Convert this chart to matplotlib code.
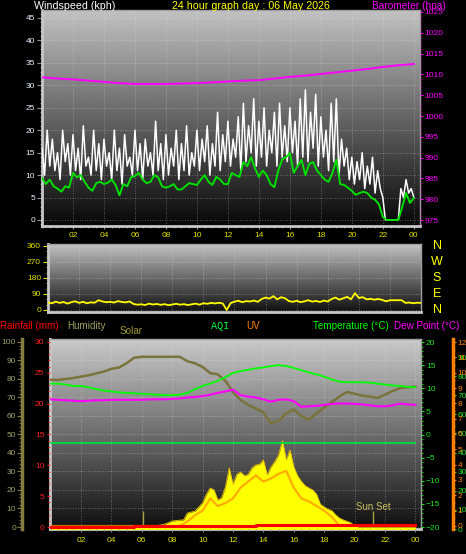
#!/usr/bin/env python3

# 24 hour weather station graph (wind, direction, temp/humidity/solar)

import numpy as np
import matplotlib
matplotlib.use('Agg')
import matplotlib.pyplot as plt
from matplotlib.ticker import MultipleLocator
from matplotlib.transforms import blended_transform_factory

plt.rcParams['font.family'] = ['Liberation Sans', 'DejaVu Sans']

hour_ticks = [2, 4, 6, 8, 10, 12, 14, 16, 18, 20, 22, 24]
hour_labels = ['02', '04', '06', '08', '10', '12', '14', '16', '18', '20', '22', '00']

# wind gust (kph), 10 minute steps
gust_hours = np.arange(145) / 6
gust = [
    16, 10, 20, 12, 18, 11,   # 00
    15, 9, 20, 13, 17, 10,    # 01
    19, 11, 16, 9, 21, 12,    # 02
    14, 10, 20, 11, 17, 9,    # 03
    18, 12, 15, 9, 20, 11,    # 04
    16, 8, 19, 12, 14, 10,    # 05
    20, 11, 17, 9, 18, 12,    # 06
    15, 10, 22, 11, 17, 9,    # 07
    19, 10, 16, 12, 20, 9,    # 08
    17, 11, 21, 10, 15, 12,   # 09
    20, 11, 18, 13, 21, 10,   # 10
    17, 12, 24, 11, 19, 13,   # 11
    22, 12, 18, 14, 23, 11,   # 12
    26, 13, 21, 15, 27, 12,   # 13
    22, 14, 25, 12, 20, 15,   # 14
    24, 12, 26, 14, 21, 13,   # 15
    25, 15, 22, 12, 27, 14,   # 16
    29, 13, 24, 16, 28, 12,   # 17
    23, 14, 20, 11, 26, 13,   # 18
    27, 10, 18, 12, 16, 9,    # 19
    14, 8, 13, 9, 15, 7,      # 20
    12, 8, 14, 6, 11, 7,      # 21
    5, 0, 0, 0, 0, 0,         # 22
    0, 7, 5, 9, 6, 7,         # 23
    5,
]

# average wind (kph) and direction (deg), 15 minute steps
quarter_hours = np.arange(97) / 4
wind_avg = [
    9.4, 8.0, 9.0, 7.5,
    7.0, 6.3, 7.5, 7.2,
    10.5, 9.5, 10.0, 8.5,
    7.2, 6.5, 8.2, 8.5,
    8.0, 8.3, 9.0, 7.8,
    5.5, 8.0, 7.5, 9.5,
    9.8, 10.5, 9.0, 8.2,
    8.5, 10.0, 9.5, 7.5,
    7.2, 7.5, 8.0, 6.8,
    6.8, 7.5, 8.2, 8.0,
    7.8, 9.0, 10.0, 8.5,
    7.8, 9.6, 9.0, 8.0,
    8.0, 10.5, 10.0, 9.6,
    12.9, 12.0, 14.0, 11.5,
    9.6, 11.0, 10.0, 8.0,
    7.3, 11.0, 13.5, 14.0,
    14.9, 10.5, 12.0, 13.4,
    10.0, 12.5, 12.9, 11.0,
    10.0, 9.0, 8.5, 10.5,
    13.4, 8.0, 7.8, 7.2,
    6.5, 5.6, 6.0, 6.3,
    6.0, 5.0, 4.5, 3.5,
    0.7, 0.0, 0.0, 0.0,
    0.0, 2.9, 6.0, 3.8,
    4.9,
]
wind_dir = [
    42, 38, 47, 40,
    45, 36, 44, 49,
    40, 46, 38, 43,
    41, 55, 48, 44,
    46, 42, 50, 45,
    43, 48, 34, 30,
    32, 28, 36, 31,
    34, 29, 33, 27,
    31, 35, 30, 33,
    28, 32, 36, 30,
    38, 35, 40, 37,
    41, 36, 0, 39,
    47, 52, 44, 50,
    48, 53, 46, 62,
    70, 64, 78, 60,
    72, 66, 50, 46,
    52, 44, 49, 55,
    47, 51, 45, 53,
    48, 62, 70, 58,
    66, 74, 60, 95,
    68, 72, 60, 63,
    58, 62, 57, 49,
    55, 55, 55, 55,
    40, 42, 38, 41,
    40,
]

# solar radiation (W/m2), 15 minute steps
solar = [
    0, 0, 0, 0,  0, 0, 0, 0,  0, 0, 0, 0,  0, 0, 0, 0,
    0, 0, 0, 0,  0, 0, 0, 0,  0, 0, 0, 5,
    10, 14, 20, 30,
    42, 45, 48, 50,
    98, 105, 112, 140,
    169, 230, 274, 260,
    190, 204, 281, 415,
    300, 370, 387, 360,
    370, 415, 436, 440,
    471, 366, 422, 460,
    506, 607, 471, 541,
    422, 360, 320, 290,
    274, 260, 230, 160,
    140, 125, 115, 85,
    63, 50, 40, 30,
    10, 0, 0, 0,
    0, 0, 0, 0,  0, 0, 0, 0,  0, 0, 0, 0,
    0,
]

# barometer (hpa) and AQI, hourly
hours = np.arange(25)
baro = [1009.3, 1009.0, 1008.8, 1008.5, 1008.2, 1007.9, 1007.7, 1007.7, 1007.7,
        1007.8, 1007.9, 1008.1, 1008.3, 1008.5, 1008.6, 1009.0, 1009.4, 1009.7,
        1010.1, 1010.5, 1010.9, 1011.3, 1011.8, 1012.2, 1012.5]
aqi = [45, 45, 45, 45, 45, 45, 45, 45, 45, 45, 45, 45, 45,
       45, 45, 45, 45, 45, 45, 45, 45, 45, 45, 45, 45]

# half hourly
half_hours = np.arange(49) / 2
humidity = [79.5, 79.5, 80.0, 80.5, 81.3, 82.0, 83.0, 84.0, 85.5, 86.2,
            88.5, 91.5, 92.0, 92.0, 92.0, 92.0, 92.0, 92.0, 89.6, 88.5,
            86.5, 83.2, 82.5, 79.0, 73.0, 68.6, 66.0, 64.0, 62.0, 56.0,
            57.5, 61.5, 63.5, 60.0, 58.0, 61.5, 64.5, 67.5, 70.5, 73.0,
            72.0, 71.0, 70.5, 69.7, 71.5, 73.5, 75.0, 75.5, 75.8]
temperature = [11.0, 11.0, 10.8, 10.5, 10.5, 10.2, 9.8, 9.5, 9.3, 9.1,
               9.0, 8.9, 8.8, 8.7, 8.6, 8.5, 8.5, 8.6, 9.0, 9.8,
               10.5, 11.0, 11.6, 12.4, 13.3, 13.7, 14.0, 14.3, 14.5, 14.8,
               15.0, 14.8, 14.4, 13.9, 13.4, 13.0, 12.5, 11.9, 11.4, 11.3,
               11.3, 11.3, 11.2, 11.0, 10.8, 10.6, 10.5, 10.3, 10.2]
dew_point = [7.6, 7.5, 7.4, 7.3, 7.2, 7.3, 7.4, 7.4, 7.5, 7.5,
             7.5, 7.5, 7.5, 7.6, 7.6, 7.6, 7.7, 7.8, 8.0, 8.1,
             8.3, 8.6, 9.0, 9.3, 9.7, 8.5, 8.2, 8.0, 7.6, 7.1,
             7.5, 7.6, 7.2, 6.0, 6.1, 6.2, 6.4, 6.6, 6.7, 6.7,
             6.6, 6.5, 6.3, 6.1, 6.1, 6.3, 6.7, 6.5, 6.4]
uv = [0, 0, 0, 0, 0, 0, 0, 0, 0, 0, 0, 0, 0, 0, 0, 0, 0, 0,
      0.3, 0.7, 1.0, 1.8, 1.3, 1.5, 1.8, 2.5, 2.9, 3.3,
      2.9, 3.1, 3.4, 3.6, 2.5, 1.8, 1.6, 1.3, 1.0, 0.6,
      0, 0, 0, 0, 0, 0, 0, 0, 0, 0, 0]
rain = [0, 0, 0, 0, 0, 0, 0, 0, 0, 0, 0,
        0.2, 0.2, 0.2, 0.2, 0.2, 0.2, 0.2, 0.2, 0.2, 0.2, 0.2, 0.2, 0.2, 0.2, 0.2, 0.2,
        0.4, 0.4, 0.4, 0.4, 0.4, 0.4, 0.4, 0.4, 0.4, 0.4, 0.4, 0.4, 0.4, 0.4, 0.4,
        0.4, 0.4, 0.4, 0.4, 0.4, 0.4, 0.4]

sun_rise = 6.1
sun_set = 21.2

W, H = 466, 554
YELLOW = '#e0e000'


def rect(x0, y0, x1, y1):
    # pixel box (from top left) -> figure fraction
    return [x0 / W, 1 - y1 / H, (x1 - x0) / W, (y1 - y0) / H]


def shade(ax, top, bottom):
    g = np.linspace(top, bottom, 256).reshape(-1, 1)
    ax.imshow(g, cmap='gray', vmin=0, vmax=1, extent=[0, 1, 0, 1],
              transform=ax.transAxes, aspect='auto', zorder=0)


def frame(ax):
    for s in ['left', 'bottom']:
        ax.spines[s].set_color('#c8c8c8')
        ax.spines[s].set_linewidth(2)
    for s in ['top', 'right']:
        ax.spines[s].set_color('#a0a0a0')
        ax.spines[s].set_linewidth(1)


def grid(ax):
    ax.grid(True, color='#e8e8e8', ls=(0, (1, 2)), lw=0.6, alpha=0.45)


def layer(box, z):
    ax = fig.add_axes(box, zorder=z)
    ax.patch.set_visible(False)
    for s in ax.spines.values():
        s.set_visible(False)
    ax.tick_params(which='both', left=False, bottom=False,
                   labelleft=False, labelbottom=False)
    ax.set_xlim(-0.04, 24.37)
    return ax


fig = plt.figure(figsize=(W / 100, H / 100), dpi=100, facecolor='black')

# ---------------- wind speed / barometer ----------------
ax_w = fig.add_axes(rect(42, 10, 420, 226))
shade(ax_w, 0.76, 0.03)
ax_w.plot(gust_hours, gust, color='white', lw=1.1, zorder=3)
ax_w.plot(quarter_hours, wind_avg, color='#00e000', lw=1.4, zorder=4)
ax_w.set_xlim(0, 24.4)
ax_w.set_ylim(-1.34, 46.78)
ax_w.yaxis.set_major_locator(MultipleLocator(5))
ax_w.yaxis.set_minor_locator(MultipleLocator(1))
ax_w.set_xticks(hour_ticks, hour_labels)
ax_w.xaxis.set_minor_locator(MultipleLocator(0.5))
ax_w.tick_params(axis='y', which='both', color='#909090', labelcolor='#e8f0ff',
                 labelsize=6, length=3.5, pad=1.5)
ax_w.tick_params(axis='y', which='minor', length=1.5)
ax_w.tick_params(axis='x', which='both', color='#909090', labelcolor=YELLOW,
                 labelsize=6, length=2, pad=2.5)
ax_w.tick_params(axis='x', which='minor', length=1.2)
grid(ax_w)
frame(ax_w)

ax_b = ax_w.twinx()
ax_b.plot(hours, baro, color='#ff00ff', lw=1.4)
ax_b.set_ylim(973.56, 1025.48)
ax_b.yaxis.set_major_locator(MultipleLocator(5))
ax_b.yaxis.set_minor_locator(MultipleLocator(1))
ax_b.tick_params(axis='y', which='both', color='#ff00ff', labelcolor='#ff00ff',
                 labelsize=6, length=2, pad=1)
ax_b.tick_params(axis='y', which='minor', length=1)
for s in ax_b.spines.values():
    s.set_visible(False)

# ---------------- wind direction ----------------
ax_d = fig.add_axes(rect(48, 244, 421, 312))
shade(ax_d, 0.76, 0.06)
ax_d.plot(quarter_hours, wind_dir, color='#ffff00', lw=1.3, zorder=3)
ax_d.set_xlim(0, 24)
ax_d.set_ylim(-11.25, 371.25)
ax_d.set_yticks([0, 90, 180, 270, 360])
ax_d.yaxis.set_minor_locator(MultipleLocator(30))
ax_d.set_xticks(hour_ticks)
ax_d.tick_params(axis='x', length=0, labelbottom=False)
ax_d.tick_params(axis='y', which='both', color=YELLOW, labelcolor=YELLOW,
                 labelsize=6, length=3.5, pad=1.5)
ax_d.tick_params(axis='y', which='minor', length=1.5)
grid(ax_d)
frame(ax_d)
compass = blended_transform_factory(ax_d.transAxes, ax_d.transData)
for deg, letter in zip([360, 270, 180, 90, 0], ['N', 'W', 'S', 'E', 'N']):
    ax_d.text(1.043, deg, letter, transform=compass, color='#ffff00',
              fontsize=9, ha='center', va='center')

# ---------------- temperature / humidity / solar ----------------
box = rect(50, 339, 421, 529)

ax_bg = layer(box, 0)
shade(ax_bg, 0.79, 0.06)
ax_bg.set_ylim(-1.081, 101.62)
ax_bg.set_xticks(hour_ticks)
ax_bg.yaxis.set_major_locator(MultipleLocator(10))
grid(ax_bg)
for s in ax_bg.spines.values():
    s.set_visible(True)
frame(ax_bg)

ax_s = layer(box, 1)
ax_s.fill_between(quarter_hours, solar, -20, color='#ffff00', lw=0)
ax_s.plot(quarter_hours, solar, color='#f0c000', lw=0.6)
ax_s.set_ylim(-14.06, 1321.6)

ax_h = layer(box, 2)
ax_h.plot(half_hours, humidity, color='#7a743c', lw=1.8)
ax_h.vlines([sun_rise, sun_set], 0, 8.6, color='#a8a040', lw=1)
ax_h.text(sun_set, 10.8, 'Sun Set', color='#c8c060', fontsize=7,
          ha='center', va='center')
ax_h.set_ylim(-1.081, 101.62)
ax_h.spines['left'].set_visible(True)
ax_h.spines['left'].set_position(('outward', 20))
ax_h.spines['left'].set_color('#847c40')
ax_h.spines['left'].set_linewidth(2.5)
ax_h.yaxis.set_major_locator(MultipleLocator(10))
ax_h.yaxis.set_minor_locator(MultipleLocator(2))
ax_h.tick_params(axis='y', which='both', left=True, labelleft=True,
                 color='#847c40', labelcolor='#a0a068', labelsize=6,
                 length=3.5, pad=1)
ax_h.tick_params(axis='y', which='minor', length=2)

ax_t = layer(box, 3)
ax_t.plot(half_hours, temperature, color='#00ff00', lw=1.3)
ax_t.plot(half_hours, dew_point, color='#ff00ff', lw=1.5)
ax_t.set_ylim(-20.432, 20.649)
ax_t.yaxis.set_major_locator(MultipleLocator(5))
ax_t.yaxis.set_minor_locator(MultipleLocator(1))
ax_t.tick_params(axis='y', which='both', right=True, labelright=True,
                 color='#20e020', labelcolor='#20e020', labelsize=6,
                 length=2.5, pad=1)
ax_t.tick_params(axis='y', which='minor', length=1.2)

ax_a = layer(box, 4)
ax_a.plot(hours, aqi, color='#00e040', lw=1.3)
ax_a.set_ylim(0, 99.42)
ax_a.yaxis.set_major_locator(MultipleLocator(10))
ax_a.spines['right'].set_position(('outward', 23))
ax_a.tick_params(axis='y', which='both', right=True, labelright=True,
                 color='#20e020', labelcolor='#20e020', labelsize=6,
                 length=2.5, pad=1)

ax_u = layer(box, 5)
ax_u.plot(half_hours, uv, color='#ff9000', lw=1.6, alpha=0.75)
ax_u.set_ylim(-0.196, 12.196)
ax_u.spines['right'].set_visible(True)
ax_u.spines['right'].set_position(('outward', 23))
ax_u.spines['right'].set_color('#ff8000')
ax_u.spines['right'].set_linewidth(2.5)
ax_u.yaxis.set_major_locator(MultipleLocator(1))
ax_u.yaxis.set_minor_locator(MultipleLocator(0.5))
ax_u.tick_params(axis='y', which='both', right=True, labelright=True,
                 color='#ff8000', labelcolor='#ff8000', labelsize=6,
                 length=2.5, pad=1)
ax_u.tick_params(axis='y', which='minor', length=1.2)

ax_r = layer(box, 6)
ax_r.plot(half_hours, rain, color='#ff0000', lw=2.2, drawstyle='steps-post')
ax_r.set_ylim(-0.324, 30.486)
ax_r.yaxis.set_major_locator(MultipleLocator(5))
ax_r.yaxis.set_minor_locator(MultipleLocator(1))
ax_r.tick_params(axis='y', which='both', left=True, labelleft=True,
                 color='#ff2020', labelcolor='#ff2020', labelsize=6,
                 length=2.5, pad=1.5)
ax_r.tick_params(axis='y', which='minor', length=1.2)
ax_r.set_xticks(hour_ticks, hour_labels)
ax_r.xaxis.set_minor_locator(MultipleLocator(0.5))
ax_r.tick_params(axis='x', which='both', bottom=True, labelbottom=True,
                 color='#909090', labelcolor=YELLOW, labelsize=6,
                 length=2, pad=4)
ax_r.tick_params(axis='x', which='minor', length=1.2)

# ---------------- header texts ----------------
def label(x, y, s, color, **kw):
    fig.text(x / W, 1 - y / H, s, color=color, va='center', **kw)

label(34, 6, 'Windspeed (kph)', 'white', fontsize=7.7)
label(251, 6, '24 hour graph day : 06 May 2026', '#ffff00', fontsize=7.7, ha='center')
label(372, 6, 'Barometer (hpa)', '#ff00ff', fontsize=7.3)

label(0, 326, 'Rainfall (mm)', '#ff0000', fontsize=7.1)
label(67, 326, 'Humidity', '#a0a060', fontsize=7.1)
label(120, 331, 'Solar', '#a09830', fontsize=7.1)
label(211, 326, 'AQI', '#00ff40', fontsize=7.3, family='Liberation Mono')
label(246, 326, 'UV', '#ff8000', fontsize=7.1)
label(313, 326, 'Temperature (\u00b0C)', '#00ff00', fontsize=7.1)
label(394, 326, 'Dew Point (\u00b0C)', '#ff00ff', fontsize=7.1)

fig.savefig('out.png', dpi=100, facecolor='black')
